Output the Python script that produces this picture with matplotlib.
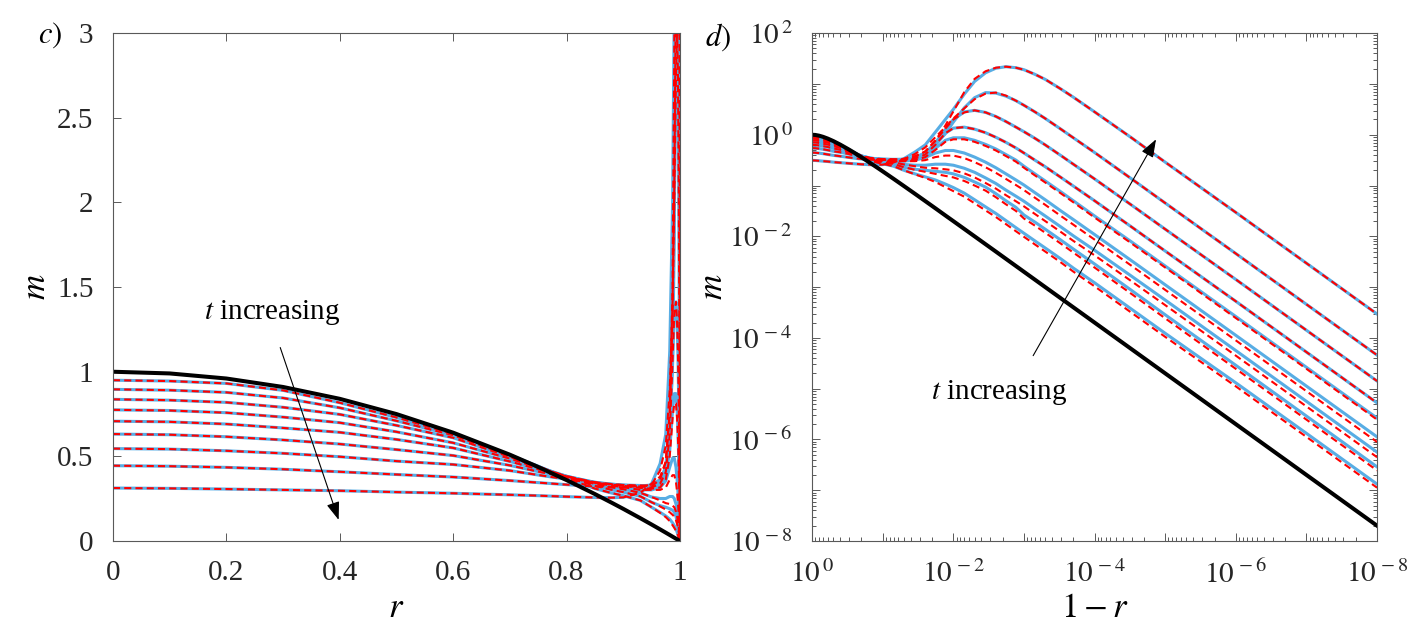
import numpy as np
import matplotlib
matplotlib.use("Agg")
import matplotlib.pyplot as plt
from matplotlib.ticker import FixedLocator, FuncFormatter, NullFormatter

plt.rcParams['font.family'] = 'serif'
plt.rcParams['font.serif'] = ['Liberation Serif', 'DejaVu Serif']
plt.rcParams['mathtext.fontset'] = 'stix'

# sample positions, s = 1 - r
S_HEAD = [1.0, 0.9, 0.8, 0.7, 0.6, 0.5, 0.4, 0.3, 0.25, 0.2, 0.15, 0.12, 0.1, 0.07]
S_TAIL = [0.05, 0.035, 0.025, 0.018, 0.013, 0.01, 0.007, 0.005, 0.0035, 0.0025,
          0.0018, 0.0013, 1e-3, 7e-4, 5e-4, 3e-4, 2e-4, 1e-4, 3e-5, 1e-5, 1e-6, 1e-7, 1e-8]

# initial profile (black)
M_BLACK = [1.0, 0.99, 0.96, 0.91, 0.84, 0.75, 0.64, 0.51, 0.4375, 0.36, 0.2775, 0.2256, 0.19, 0.1351,
           0.0975, 0.0688, 0.0494, 0.0357, 0.0258, 0.0199, 0.01395, 0.00998, 0.00699, 0.005,
           0.0036, 0.0026, 0.002, 1.4e-3, 1e-3, 6e-4, 4e-4, 2e-4, 6e-5, 2e-5, 2e-6, 2e-7, 2e-8]

# m at the head positions, earliest t first
M_HEAD = [
    [0.950, 0.945, 0.931, 0.890, 0.817, 0.730, 0.633, 0.508, 0.442, 0.372, 0.310, 0.283, 0.268, 0.240],
    [0.896, 0.891, 0.878, 0.845, 0.787, 0.710, 0.625, 0.502, 0.440, 0.378, 0.326, 0.302, 0.289, 0.264],
    [0.837, 0.832, 0.819, 0.790, 0.748, 0.683, 0.610, 0.497, 0.437, 0.382, 0.337, 0.317, 0.306, 0.285],
    [0.775, 0.771, 0.758, 0.732, 0.699, 0.645, 0.580, 0.487, 0.432, 0.383, 0.344, 0.327, 0.318, 0.302],
    [0.708, 0.704, 0.691, 0.668, 0.642, 0.600, 0.550, 0.470, 0.424, 0.382, 0.347, 0.333, 0.326, 0.314],
    [0.632, 0.628, 0.616, 0.597, 0.573, 0.540, 0.505, 0.447, 0.410, 0.376, 0.347, 0.336, 0.330, 0.322],
    [0.546, 0.543, 0.533, 0.518, 0.498, 0.472, 0.452, 0.416, 0.390, 0.365, 0.342, 0.335, 0.331, 0.328],
    [0.445, 0.442, 0.435, 0.424, 0.409, 0.393, 0.378, 0.357, 0.345, 0.333, 0.322, 0.318, 0.318, 0.325],
    [0.313, 0.311, 0.307, 0.302, 0.297, 0.289, 0.282, 0.273, 0.268, 0.262, 0.257, 0.256, 0.258, 0.285],
]

# log10 m at the tail positions, solid blue
LOG_TAIL_BLUE = [
    [-0.70, -0.77, -0.83, -0.89, -0.97, -1.04, -1.15, -1.28, -1.42, -1.55, -1.69, -1.83, -1.94, -2.09, -2.23, -2.445, -2.625, -2.915, -3.435, -3.91, -4.885, -5.88, -6.88],
    [-0.64, -0.68, -0.70, -0.72, -0.74, -0.77, -0.84, -0.93, -1.03, -1.16, -1.30, -1.43, -1.58, -1.72, -1.86, -2.075, -2.25, -2.545, -3.065, -3.545, -4.54, -5.54, -6.54],
    [-0.585, -0.60, -0.60, -0.58, -0.58, -0.60, -0.66, -0.74, -0.85, -0.96, -1.09, -1.21, -1.31, -1.46, -1.60, -1.815, -1.99, -2.275, -2.785, -3.255, -4.25, -5.25, -6.25],
    [-0.52, -0.50, -0.45, -0.36, -0.31, -0.31, -0.36, -0.44, -0.54, -0.65, -0.77, -0.89, -0.99, -1.14, -1.28, -1.50, -1.67, -1.965, -2.48, -2.955, -3.95, -4.95, -5.95],
    [-0.51, -0.49, -0.42, -0.27, -0.11, -0.06, -0.06, -0.11, -0.19, -0.28, -0.39, -0.50, -0.62, -0.77, -0.91, -1.125, -1.30, -1.60, -2.11, -2.585, -3.58, -4.58, -5.58],
    [-0.50, -0.47, -0.39, -0.20, 0.03, 0.13, 0.15, 0.11, 0.04, -0.05, -0.15, -0.26, -0.36, -0.50, -0.63, -0.84, -1.01, -1.30, -1.815, -2.29, -3.28, -4.28, -5.28],
    [-0.49, -0.46, -0.36, -0.16, 0.10, 0.30, 0.45, 0.48, 0.44, 0.36, 0.26, 0.15, 0.06, -0.07, -0.20, -0.41, -0.58, -0.87, -1.385, -1.86, -2.85, -3.85, -4.85],
    [-0.48, -0.44, -0.36, -0.20, 0.02, 0.25, 0.53, 0.73, 0.83, 0.82, 0.76, 0.67, 0.58, 0.45, 0.32, 0.11, -0.06, -0.35, -0.868, -1.345, -2.34, -3.34, -4.34],
    [-0.47, -0.34, -0.20, 0.05, 0.30, 0.50, 0.80, 1.05, 1.22, 1.31, 1.34, 1.32, 1.28, 1.19, 1.09, 0.90, 0.74, 0.45, -0.06, -0.54, -1.53, -2.53, -3.53],
]

# dashed red
LOG_TAIL_RED = [
    [-0.70, -0.78, -0.85, -0.93, -1.03, -1.11, -1.22, -1.35, -1.49, -1.62, -1.76, -1.90, -2.01, -2.16, -2.30, -2.515, -2.695, -2.985, -3.505, -3.98, -4.955, -5.95, -6.95],
    [-0.64, -0.69, -0.73, -0.77, -0.81, -0.84, -0.91, -1.00, -1.10, -1.23, -1.37, -1.50, -1.65, -1.79, -1.93, -2.145, -2.32, -2.615, -3.135, -3.615, -4.61, -5.61, -6.61],
    [-0.585, -0.62, -0.65, -0.66, -0.68, -0.70, -0.76, -0.84, -0.95, -1.06, -1.19, -1.31, -1.41, -1.56, -1.70, -1.915, -2.09, -2.375, -2.885, -3.355, -4.35, -5.35, -6.35],
    [-0.52, -0.52, -0.50, -0.44, -0.41, -0.41, -0.46, -0.54, -0.64, -0.75, -0.87, -0.99, -1.09, -1.24, -1.38, -1.60, -1.77, -2.065, -2.58, -3.055, -4.05, -5.05, -6.05],
    [-0.51, -0.50, -0.44, -0.30, -0.14, -0.09, -0.09, -0.14, -0.22, -0.31, -0.42, -0.53, -0.65, -0.80, -0.94, -1.155, -1.33, -1.63, -2.14, -2.615, -3.61, -4.61, -5.61],
    [-0.50, -0.47, -0.39, -0.20, 0.03, 0.13, 0.15, 0.11, 0.04, -0.05, -0.15, -0.26, -0.36, -0.50, -0.63, -0.84, -1.01, -1.30, -1.815, -2.29, -3.28, -4.28, -5.28],
    [-0.49, -0.44, -0.33, -0.12, 0.12, 0.30, 0.44, 0.48, 0.44, 0.36, 0.26, 0.15, 0.06, -0.07, -0.20, -0.41, -0.58, -0.87, -1.385, -1.86, -2.85, -3.85, -4.85],
    [-0.48, -0.38, -0.25, -0.05, 0.15, 0.32, 0.52, 0.70, 0.81, 0.83, 0.77, 0.67, 0.58, 0.45, 0.32, 0.11, -0.06, -0.35, -0.868, -1.345, -2.34, -3.34, -4.34],
    [-0.47, -0.42, -0.33, -0.12, 0.18, 0.46, 0.84, 1.10, 1.25, 1.32, 1.34, 1.32, 1.28, 1.19, 1.09, 0.90, 0.74, 0.45, -0.06, -0.54, -1.53, -2.53, -3.53],
]

BLUE = '#58ADE4'
RED = '#FF0000'
AX_COL = '0.35'
TXT_COL = '#262626'

s = np.array(S_HEAD + S_TAIL)
r = 1.0 - s
black = np.array(M_BLACK)

fig = plt.figure(figsize=(14.21, 6.38), dpi=100)
ax1 = fig.add_axes([0.0795, 0.152, 0.399, 0.796])
ax2 = fig.add_axes([0.5715, 0.152, 0.3976, 0.796])

for k in range(len(M_HEAD)):
    m_blue = np.concatenate([M_HEAD[k], 10.0 ** np.array(LOG_TAIL_BLUE[k])])
    ax1.plot(r, m_blue, color=BLUE, lw=2.2)
    ax2.plot(s, m_blue, color=BLUE, lw=2.2)
for k in range(len(M_HEAD)):
    m_red = np.concatenate([M_HEAD[k], 10.0 ** np.array(LOG_TAIL_RED[k])])
    ax1.plot(r, m_red, color=RED, lw=1.5, dashes=(3.4, 2.0))
    ax2.plot(s, m_red, color=RED, lw=1.5, dashes=(3.4, 2.0))
ax1.plot(r, black, color='k', lw=2.9)
ax2.plot(s, black, color='k', lw=2.9)

# panel c
ax1.set_xlim(0, 1)
ax1.set_ylim(0, 3)
ax1.set_xticks([0, 0.2, 0.4, 0.6, 0.8, 1])
ax1.set_yticks([0, 0.5, 1, 1.5, 2, 2.5, 3])
ax1.xaxis.set_major_formatter(FuncFormatter(lambda v, p: f'{v:g}'))
ax1.yaxis.set_major_formatter(FuncFormatter(lambda v, p: f'{v:g}'))
ax1.set_xlabel(r'$r$', fontsize=25)
ax1.set_ylabel(r'$m$', fontsize=25)
ax1.xaxis.set_label_coords(0.5, -0.1)
ax1.yaxis.set_label_coords(-0.105, 0.5)
ax1.text(0.16, 1.35, r'$t$ increasing', fontsize=21, va='center', color='k')
ax1.annotate('', xy=(0.398, 0.125), xytext=(0.295, 1.143),
             arrowprops=dict(arrowstyle='-|>,head_length=0.55,head_width=0.2',
                             lw=0.8, color='k', mutation_scale=20, shrinkA=0, shrinkB=0))

# panel d
ax2.set_xscale('log')
ax2.set_yscale('log')
ax2.set_xlim(1, 1e-8)
ax2.set_ylim(1e-8, 1e2)


def log_label(v, p):
    e = int(round(np.log10(v)))
    if e % 2:
        return ''
    return r'$10^{\,%d}$' % e


minor = [m * 10.0 ** e for e in range(-9, 3) for m in range(2, 10)]
ax2.xaxis.set_major_locator(FixedLocator([10.0 ** e for e in range(-8, 1)]))
ax2.yaxis.set_major_locator(FixedLocator([10.0 ** e for e in range(-8, 3)]))
ax2.xaxis.set_minor_locator(FixedLocator(minor))
ax2.yaxis.set_minor_locator(FixedLocator(minor))
ax2.xaxis.set_major_formatter(FuncFormatter(log_label))
ax2.yaxis.set_major_formatter(FuncFormatter(log_label))
ax2.xaxis.set_minor_formatter(NullFormatter())
ax2.yaxis.set_minor_formatter(NullFormatter())
ax2.set_xlabel(r'$1-r$', fontsize=25)
ax2.set_ylabel(r'$m$', fontsize=25)
ax2.xaxis.set_label_coords(0.5, -0.1)
ax2.yaxis.set_label_coords(-0.146, 0.5)
ax2.text(10 ** -1.68, 10 ** -5.08, r'$t$ increasing', fontsize=21, va='center', color='k')
ax2.annotate('', xy=(10 ** -4.87, 10 ** -0.09), xytext=(10 ** -3.13, 10 ** -4.35),
             arrowprops=dict(arrowstyle='-|>,head_length=0.55,head_width=0.2',
                             lw=0.8, color='k', mutation_scale=20, shrinkA=0, shrinkB=0))

for ax in (ax1, ax2):
    for sp in ax.spines.values():
        sp.set_color(AX_COL)
        sp.set_linewidth(0.8)
    ax.tick_params(which='both', direction='in', top=True, right=True,
                   colors=AX_COL, labelcolor=TXT_COL, labelsize=21, width=0.7)
    ax.tick_params(which='major', length=6, pad=14)
    ax.tick_params(which='minor', length=3)

fig.text(0.027, 0.945, r'$c)$', fontsize=22, va='center')
fig.text(0.496, 0.942, r'$d)$', fontsize=22, va='center')

fig.savefig('out.png', dpi=100)
